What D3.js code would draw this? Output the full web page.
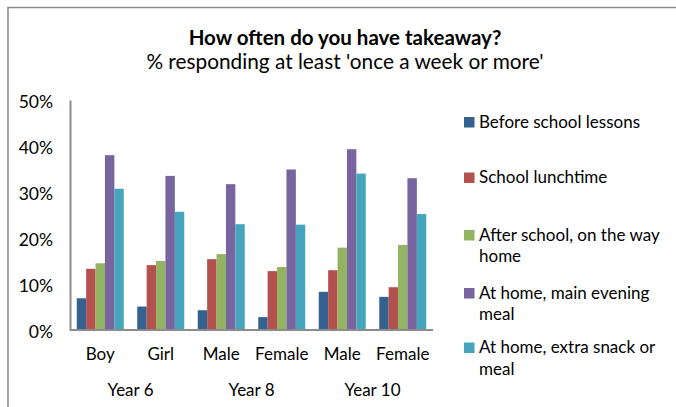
<!DOCTYPE html>
<html><head><meta charset="utf-8">
<script src="https://cdn.jsdelivr.net/npm/d3@7"></script>
<style>
html,body{margin:0;padding:0;background:#fff;}
svg{display:block;}
text{font-family:Lato,"Open Sans",sans-serif;fill:#000;}
</style></head>
<body>
<svg id="chart" width="676" height="407"></svg>
<script>
const categories = ["Boy","Girl","Male","Female","Male","Female"];
const groups = [{name:"Year 6", span:2},{name:"Year 8", span:2},{name:"Year 10", span:2}];
const seriesNames = ["Before school lessons","School lunchtime","After school, on the way home","At home, main evening meal","At home, extra snack or meal"];
const legendLines = [["Before school lessons"],["School lunchtime"],["After school, on the way","home"],["At home, main evening","meal"],["At home, extra snack or","meal"]];
const beforeSchool = [6.9, 5.1, 4.3, 2.8, 8.3, 7.2];
const lunchtime    = [13.3, 14.1, 15.4, 12.8, 13.0, 9.3];
const afterSchool  = [14.5, 15.0, 16.5, 13.7, 17.9, 18.5];
const eveningMeal  = [38.0, 33.5, 31.7, 34.9, 39.3, 33.0];
const extraSnack   = [30.7, 25.7, 23.0, 22.9, 34.0, 25.2];
const seriesValues = [beforeSchool, lunchtime, afterSchool, eveningMeal, extraSnack];
const yTicks = [0,10,20,30,40,50];
const colors = ["#35618F","#B3514F","#92B462","#78649E","#46A5BC"];

(function(){
const svg = d3.select("#chart");
svg.append("path").attr("d","M8,420 L8,7.5 L700,7.5").attr("fill","none").attr("stroke","#8c8c8c").attr("stroke-width",1.6);

svg.append("text").attr("x",345).attr("y",45).attr("text-anchor","middle")
  .style("font-size","20.5px").style("font-weight","bold").text("How often do you have takeaway?");
svg.append("text").attr("x",345).attr("y",69).attr("text-anchor","middle")
  .style("font-size","20.8px").text("% responding at least 'once a week or more'");

const pl = 70, pr = 433, pt = 100, pb = 330;
const x0 = d3.scaleBand().domain(d3.range(categories.length)).range([pl,pr]).paddingInner(0.223).paddingOuter(0.1115);
const x1 = d3.scaleBand().domain(d3.range(seriesNames.length)).range([0,x0.bandwidth()]);
const y = d3.scaleLinear().domain([0,50]).range([pb,pt]);

seriesValues.forEach((vals,si)=>{
  svg.append("g").selectAll("rect").data(vals).join("rect")
    .attr("x",(d,i)=>x0(i)+x1(si))
    .attr("width",x1.bandwidth())
    .attr("y",d=>y(d))
    .attr("height",d=>pb-y(d))
    .attr("fill",colors[si]);
});

const yAxis = d3.axisLeft(y).tickValues(yTicks).tickFormat(d=>d+"%").tickSize(0).tickPadding(17);
const yg = svg.append("g").attr("transform",`translate(${pl},0)`).call(yAxis);
yg.select(".domain").attr("stroke","#8c8c8c").attr("stroke-width",2);
yg.selectAll("text").style("font-size","17.5px").style("font-family","Lato,'Open Sans',sans-serif").attr("dy","0.4em");

svg.append("line").attr("x1",pl).attr("x2",pr).attr("y1",pb).attr("y2",pb)
  .attr("stroke","#8c8c8c").attr("stroke-width",2);

svg.append("g").selectAll("text").data(categories).join("text")
  .attr("x",(d,i)=>x0(i)+x0.bandwidth()/2).attr("y",360).attr("text-anchor","middle")
  .style("font-size","17px").text(d=>d);

let idx = 0;
groups.forEach(g=>{
  const a = x0(idx) - x0.step()*x0.paddingInner()/2;
  const b = x0(idx+g.span-1) + x0.bandwidth() + x0.step()*x0.paddingInner()/2;
  svg.append("text").attr("x",(a+b)/2).attr("y",396).attr("text-anchor","middle")
    .style("font-size","17px").text(g.name);
  idx += g.span;
});

const legendY = [122, 177.5, 235, 293, 347.5];
const lg = svg.append("g");
seriesNames.forEach((s,i)=>{
  lg.append("rect").attr("x",464).attr("y",legendY[i]-5).attr("width",10.5).attr("height",10.5).attr("fill",colors[i]);
  legendLines[i].forEach((line,j)=>{
    lg.append("text").attr("x",479).attr("y",legendY[i]+j*21.5+5.5).style("font-size","17px").text(line);
  });
});
})();
</script>
</body></html>
